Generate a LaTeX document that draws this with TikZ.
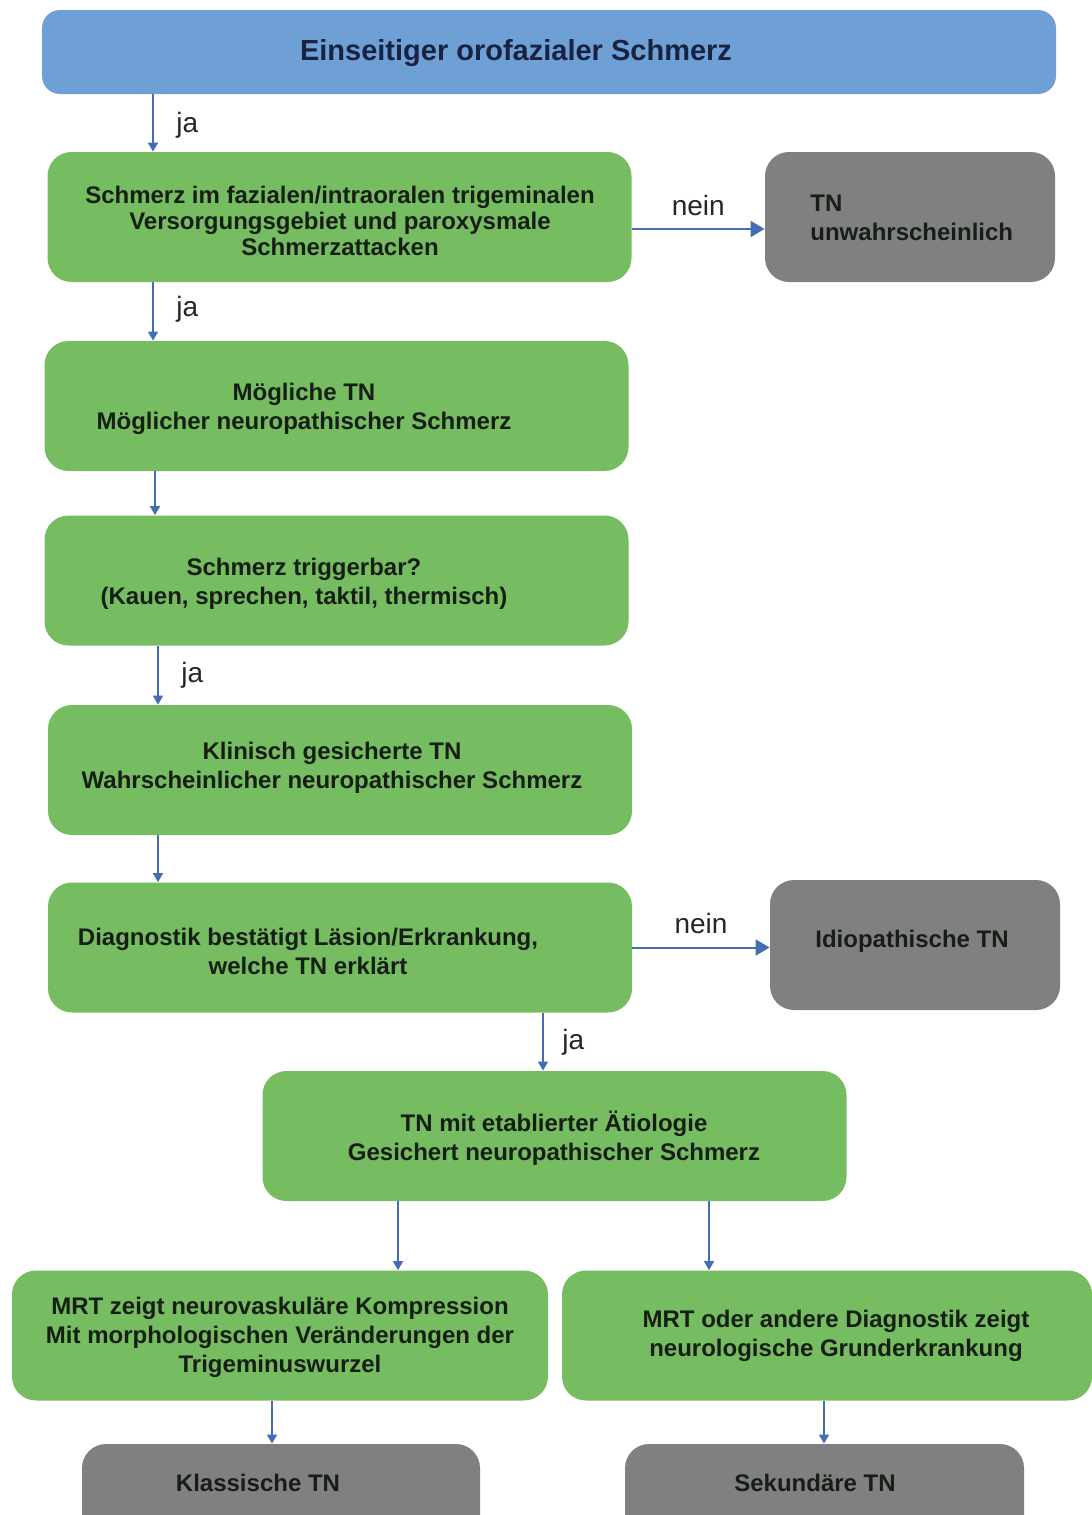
\documentclass[tikz,border=0pt]{standalone}
\usepackage{fontspec}
\setmainfont{Liberation Sans}
\usetikzlibrary{arrows.meta}
\definecolor{boxblue}{RGB}{110,160,214}
\definecolor{boxgreen}{RGB}{117,189,96}
\definecolor{boxgray}{RGB}{128,128,128}
\definecolor{arrblue}{RGB}{68,110,180}
\definecolor{txtdark}{RGB}{22,30,22}
\definecolor{titledark}{RGB}{25,35,65}

\begin{document}
\begin{tikzpicture}[x=0.5pt, y=-0.5pt,
	main/.style = {rounded corners=12pt, minimum width=292pt, minimum height=65pt, inner sep=0pt},
	gbox/.style = {main, fill=boxgreen},
	nbox/.style = {main, fill=boxgray, minimum width=145pt},
	txt/.style = {font=\bfseries\fontsize{12}{14.5}\selectfont, align=center, text=txtdark, inner sep=0pt},
	lbl/.style = {font=\fontsize{14}{16}\selectfont, text=black!85},
	arr/.style = {draw=arrblue, line width=0.8pt, -{Triangle[length=4.5pt, width=5pt]}},
	arrbig/.style = {arr, line width=1pt, -{Triangle[length=7pt, width=8pt]}}]
	\useasboundingbox (0,0) rectangle (1092,1515);
	\node[main, fill=boxblue, minimum width=507pt, minimum height=42pt, rounded corners=9pt] (0) at (549,52) {};
	\node[txt, font=\bfseries\fontsize{14.5}{17}\selectfont, text=titledark] (t0) at (516,53) {Einseitiger orofazialer Schmerz};
	\node[gbox] (1) at (339.5,217) {};
	\node[txt, font=\bfseries\fontsize{12}{13}\selectfont] (t1) at (340,221) {Schmerz im fazialen/intraoralen trigeminalen\\Versorgungsgebiet und paroxysmale\\Schmerzattacken};
	\node[nbox] (2) at (910,217) {};
	\node[txt, align=left, anchor=west] (t2) at (810,218) {TN\\unwahrscheinlich};
	\node[gbox] (3) at (336.5,406) {};
	\node[txt] (t3) at (304,409) {Mögliche TN\\Möglicher neuropathischer Schmerz};
	\node[gbox] (4) at (336.5,580.5) {};
	\node[txt] (t4) at (304,584) {Schmerz triggerbar?\\(Kauen, sprechen, taktil, thermisch)};
	\node[gbox] (5) at (340,770) {};
	\node[txt] (t5) at (332,768) {Klinisch gesicherte TN\\Wahrscheinlicher neuropathischer Schmerz};
	\node[gbox] (6) at (340,947.5) {};
	\node[txt] (t6) at (308,951) {Diagnostik bestätigt Läsion/Erkrankung,\\welche TN erklärt};
	\node[nbox] (7) at (915,945) {};
	\node[txt] (t7) at (912,941) {Idiopathische TN};
	\node[gbox] (8) at (554.5,1136) {};
	\node[txt] (t8) at (554,1138) {TN mit etablierter Ätiologie\\Gesichert neuropathischer Schmerz};
	\node[gbox, minimum width=268pt] (9) at (280,1335.5) {};
	\node[txt] (t9) at (280,1337) {MRT zeigt neurovaskuläre Kompression\\Mit morphologischen Veränderungen der\\Trigeminuswurzel};
	\node[gbox, minimum width=265pt] (10) at (827,1335.5) {};
	\node[txt] (t10) at (836,1336) {MRT oder andere Diagnostik zeigt\\neurologische Grunderkrankung};
	\node[nbox, minimum width=199pt, minimum height=48pt] (11) at (281,1492) {};
	\node[txt] (t11) at (258,1483) {Klassische TN};
	\node[nbox, minimum width=199.5pt, minimum height=48pt] (12) at (824.5,1492) {};
	\node[txt] (t12) at (815,1483) {Sekundäre TN};
	\draw[arr] (0.south -| 153,0) -- node[lbl, right, xshift=8pt, yshift=-1pt] {ja} (1.north -| 153,0);
	\draw[arrbig] ([yshift=-6pt]1.east) -- node[lbl, above, yshift=3pt] {nein} ([yshift=-6pt]2.west);
	\draw[arr] (1.south -| 153,0) -- node[lbl, right, xshift=8pt, yshift=1pt] {ja} (3.north -| 153,0);
	\draw[arr] (3.south -| 155,0) -- (4.north -| 155,0);
	\draw[arr] (4.south -| 158,0) -- node[lbl, right, xshift=8pt] {ja} (5.north -| 158,0);
	\draw[arr] (5.south -| 158,0) -- (6.north -| 158,0);
	\draw[arrbig] (6.east) -- node[lbl, above, yshift=3pt] {nein} (6.east -| 7.west);
	\draw[arr] (6.south -| 543,0) -- node[lbl, right, xshift=6pt] {ja} (8.north -| 543,0);
	\draw[arr] (8.south -| 398,0) -- (9.north -| 398,0);
	\draw[arr] (8.south -| 709,0) -- (10.north -| 709,0);
	\draw[arr] (9.south -| 272,0) -- (11.north -| 272,0);
	\draw[arr] (10.south -| 824,0) -- (12.north -| 824,0);
\end{tikzpicture}
\end{document}
